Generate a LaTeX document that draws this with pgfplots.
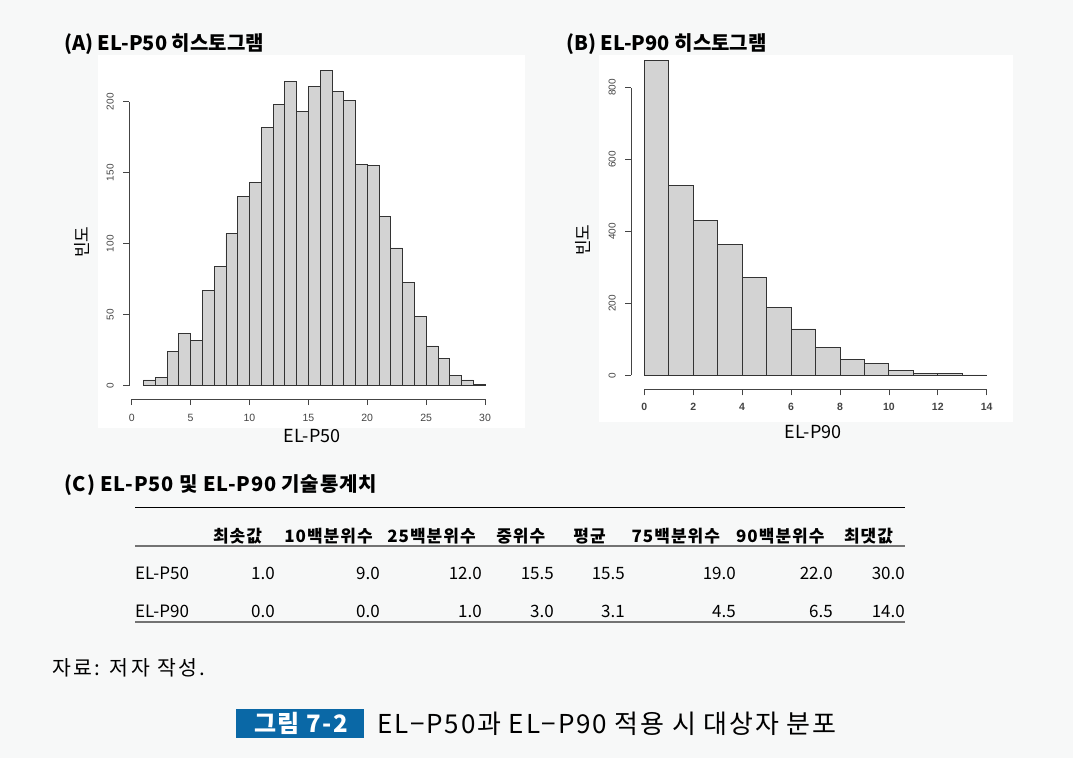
\documentclass[border=0pt]{standalone}
\usepackage{pgfplots}
\pgfplotsset{compat=1.18}
\usepackage{fontspec}
\setmainfont{Noto Sans CJK KR}
\newfontfamily\arial{Liberation Sans}
\definecolor{bg}{HTML}{F7F8F8}
\definecolor{barfill}{HTML}{D3D3D3}
\definecolor{capblue}{HTML}{0A68A6}
\definecolor{axgray}{HTML}{444444}
\newcommand{\fs}[1]{\fontsize{#1}{#1}\selectfont}
\newcommand{\ls}[1]{\addfontfeature{LetterSpace=#1}}
\begin{document}
\begin{tikzpicture}
\fill[bg] (0pt,0pt) rectangle (1073pt,-758pt);
\fill[white] (98pt,-55pt) rectangle (525pt,-428pt);
\fill[white] (599pt,-55pt) rectangle (1013pt,-422pt);

\pgfplotsset{rhist/.style={
  anchor=south west, scale only axis,
  axis x line*=bottom, axis y line*=left,
  x axis line style={draw=none,-}, y axis line style={draw=none,-},
  tick align=outside, major tick length=6pt,
  tick style={axgray, line width=0.6pt},
  ticklabel style={text=axgray},
  xticklabel style={font=\arial\fs{10.5}, outer ysep=6pt},
  yticklabel style={font=\arial\fs{10}, rotate=90, anchor=south, outer ysep=6pt},
  /pgf/number format/assume math mode=true,
  clip=false,
}}

% (A) EL-P50
\begin{axis}[rhist,
  at={(129pt,-399pt)},
  width=356pt, height=332.8pt,
  xmin=-0.23, xmax=30, ymin=-9.4, ymax=225,
  xtick={0,5,...,30}, ytick={0,50,...,200},
]
\addplot[ybar interval, fill=barfill, draw=black!80, line width=0.8pt] coordinates {
(1,4) (2,6) (3,24) (4,37) (5,32) (6,67) (7,84) (8,107) (9,133) (10,143)
(11,182) (12,198) (13,214) (14,193) (15,211) (16,222) (17,207) (18,201) (19,156) (20,155)
(21,119) (22,97) (23,73) (24,49) (25,28) (26,19) (27,7) (28,4) (29,1) (30,1)};
\draw[axgray, line width=0.6pt] (axis cs:0,-9.4) -- (axis cs:30,-9.4);
\draw[axgray, line width=0.6pt] (axis cs:-0.23,0) -- (axis cs:-0.23,200);
\end{axis}

% (B) EL-P90
\begin{axis}[rhist,
  at={(631pt,-389.3pt)},
  width=355.7pt, height=337.6pt,
  xmin=-0.544, xmax=14, ymin=-38.9, ymax=900,
  xtick={0,2,...,14}, ytick={0,200,...,800},
  xticklabel style={font=\arial\fs{10.5}\bfseries, outer ysep=5pt},
]
\addplot[ybar interval, fill=barfill, draw=black!80, line width=0.8pt] coordinates {
(0,876) (1,528) (2,430) (3,364) (4,272) (5,189) (6,129) (7,77) (8,45) (9,33)
(10,13) (11,6) (12,5) (13,1) (14,1)};
\draw[axgray, line width=0.6pt] (axis cs:0,-38.9) -- (axis cs:14,-38.9);
\draw[axgray, line width=0.6pt] (axis cs:-0.544,0) -- (axis cs:-0.544,800);
\end{axis}

\begin{scope}[x=1pt,y=-1pt]
% titles
\node[anchor=west, font=\fs{20}\bfseries, inner sep=0] at (64,44) {(A) EL-P50 히스토그램};
\node[anchor=west, font=\fs{20}\bfseries, inner sep=0] at (566,44) {(B) EL-P90 히스토그램};
% axis labels
\node[font=\fs{17}, rotate=90, inner sep=0] at (82,242) {빈도};
\node[font=\fs{17}, rotate=90, inner sep=0] at (583,240) {빈도};
\node[font=\fs{18}, inner sep=0] at (312,436) {EL-P50};
\node[font=\fs{18}, inner sep=0] at (813,432) {EL-P90};

% table
\node[anchor=west, font=\fs{20}\bfseries\ls{4}, inner sep=0] at (64,485) {(C) EL-P50 및 EL-P90 기술통계치};
\draw[black, line width=0.8pt] (135,507.3) -- (905,507.3);
\draw[black!55, line width=1.6pt] (135,546) -- (905,546);
\draw[black!55, line width=1.6pt] (135,621.7) -- (905,621.7);
\foreach \x/\t in {237.5/최솟값, 328.5/10백분위수, 431.5/25백분위수, 520.8/중위수, 589.5/평균, 675.8/75백분위수, 780.3/90백분위수, 868.5/최댓값}
  \node[font=\fs{17}\bfseries\ls{6}, inner sep=0] at (\x,536) {\t};
\node[anchor=west, font=\fs{17}, inner sep=0] at (135,573.3) {EL-P50};
\node[anchor=west, font=\fs{17}, inner sep=0] at (135,611.7) {EL-P90};
\foreach \x/\t in {275/1.0, 380/9.0, 482/12.0, 554/15.5, 625/15.5, 736/19.0, 833/22.0, 905/30.0}
  \node[anchor=east, font=\fs{17}, inner sep=0] at (\x,573.3) {\t};
\foreach \x/\t in {275/0.0, 380/0.0, 482/1.0, 554/3.0, 625/3.1, 736/4.5, 833/6.5, 905/14.0}
  \node[anchor=east, font=\fs{17}, inner sep=0] at (\x,611.7) {\t};

% source and caption
\node[anchor=west, font=\fs{20.5}\ls{12}, inner sep=0] at (52,668) {자료: 저자 작성.};
\fill[capblue] (236,709) rectangle (364,738);
\node[font=\fs{24}\bfseries\ls{6}, text=white, inner sep=0] at (301,723.5) {그림 7-2};
\node[anchor=west, font=\fs{26}\ls{7}, inner sep=0] at (377,723.5) {EL−P50과 EL−P90 적용 시 대상자 분포};
\end{scope}
\end{tikzpicture}
\end{document}
